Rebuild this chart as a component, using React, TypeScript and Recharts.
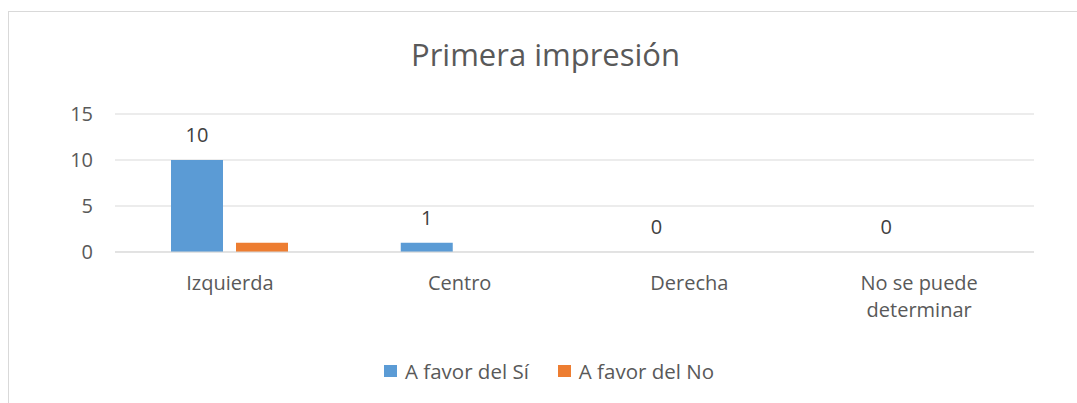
import { BarChart, Bar, XAxis, YAxis, CartesianGrid, LabelList, Text } from 'recharts'

const categories = ['Izquierda', 'Centro', 'Derecha', 'No se puede determinar']
const favorSi = [10, 1, 0, 0]
const favorNo = [1, 0, 0, 0]
const yTicks = [0, 5, 10, 15]

const seriesSi = 'A favor del Sí'
const seriesNo = 'A favor del No'

const data = categories.map((category, i) => ({
  category,
  si: favorSi[i],
  no: favorNo[i],
}))

const FONT = '"Open Sans", sans-serif'
const BLUE = '#5B9BD5'
const ORANGE = '#ED7D31'
const GREY_TEXT = '#595959'

function CategoryTick({ x, y, payload }: { x?: number; y?: number; payload?: { value: string } }) {
  return (
    <Text
      x={x}
      y={y}
      width={150}
      textAnchor="middle"
      verticalAnchor="start"
      lineHeight={27}
      fill={GREY_TEXT}
      fontSize={20}
      fontFamily={FONT}
    >
      {payload?.value}
    </Text>
  )
}

// value label above a bar
function ValueLabel(props: any) {
  const { x, y, width, value } = props
  if (x == null || y == null) return null
  return (
    <text
      x={Number(x) + Number(width) / 2}
      y={Number(y) - 18}
      textAnchor="middle"
      fill="#404040"
      fontSize={20}
      fontFamily={FONT}
    >
      {value}
    </text>
  )
}

function LegendItem({ color, label }: { color: string; label: string }) {
  return (
    <div style={{ display: 'flex', alignItems: 'center', marginRight: 29 }}>
      <span style={{ width: 13, height: 12, background: color, marginRight: 8, display: 'inline-block' }} />
      <span>{label}</span>
    </div>
  )
}

export default function App() {
  return (
    <div
      style={{
        position: 'absolute',
        left: 0,
        top: 0,
        width: 1077,
        height: 403,
        background: '#fff',
        fontFamily: FONT,
        overflow: 'hidden',
      }}
    >
      {/* chart frame, cut off at the right and bottom like the source */}
      <div
        style={{
          position: 'absolute',
          left: 8,
          top: 11,
          width: 1080,
          height: 400,
          borderTop: '1px solid #d9d9d9',
          borderLeft: '1px solid #d9d9d9',
        }}
      />
      <div
        style={{
          position: 'absolute',
          left: 0,
          width: 1091,
          top: 33,
          textAlign: 'center',
          fontSize: 31,
          color: GREY_TEXT,
          lineHeight: '42px',
        }}
      >
        Primera impresión
      </div>
      <div style={{ position: 'absolute', left: 0, top: 0 }}>
        <BarChart
          width={1077}
          height={403}
          data={data}
          margin={{ top: 114, right: 43, left: 0, bottom: 91 }}
          barSize={52}
          barGap={13}
        >
          <CartesianGrid vertical={false} stroke="#d9d9d9" />
          <XAxis
            dataKey="category"
            height={60}
            axisLine={{ stroke: '#d9d9d9' }}
            tickLine={false}
            tickMargin={18}
            tick={<CategoryTick />}
            interval={0}
          />
          <YAxis
            domain={[0, 15]}
            ticks={yTicks}
            width={115}
            axisLine={false}
            tickLine={false}
            tickMargin={16}
            tick={{ fontSize: 20, fill: GREY_TEXT, fontFamily: FONT }}
          />
          {/* tiny min size keeps the zero bars (and their "0" labels) in the layout */}
          <Bar
            dataKey="si"
            name={seriesSi}
            fill={BLUE}
            minPointSize={(v: number) => (v === 0 ? 0.01 : 0)}
            isAnimationActive={false}
          >
            <LabelList dataKey="si" content={<ValueLabel />} />
          </Bar>
          <Bar dataKey="no" name={seriesNo} fill={ORANGE} isAnimationActive={false} />
        </BarChart>
      </div>
      <div
        style={{
          position: 'absolute',
          left: 384,
          top: 357,
          height: 28,
          display: 'flex',
          alignItems: 'center',
          fontSize: 20.5,
          color: GREY_TEXT,
        }}
      >
        <LegendItem color={BLUE} label={seriesSi} />
        <LegendItem color={ORANGE} label={seriesNo} />
      </div>
    </div>
  )
}
